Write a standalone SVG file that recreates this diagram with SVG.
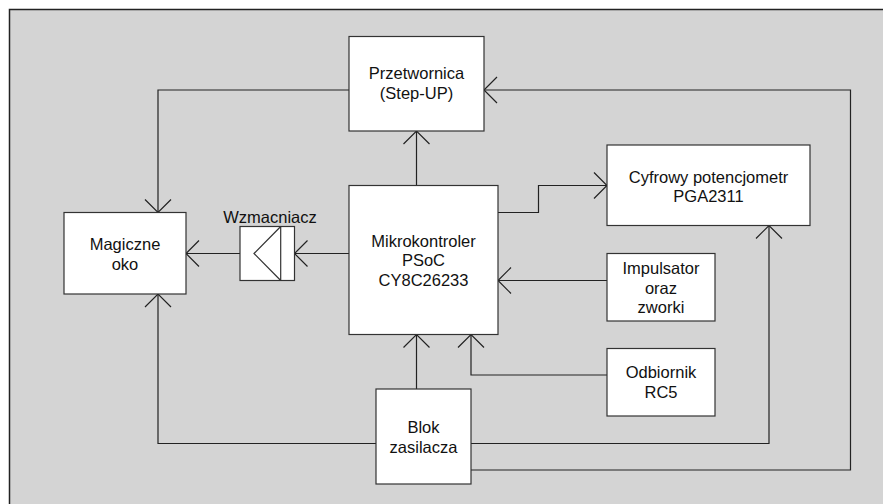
<svg xmlns="http://www.w3.org/2000/svg" width="883" height="504" viewBox="0 0 883 504">
  <style>
    .box { fill: #ffffff; stroke: #333333; stroke-width: 1.2; }
    .wire { fill: none; stroke: #222222; stroke-width: 1.2; }
    .lbl { font-family: "Liberation Sans", Arial, Helvetica, sans-serif; font-size: 16.5px; fill: #111111; text-anchor: middle; }
  </style>
  <defs>
    <marker id="arrow" markerUnits="userSpaceOnUse" markerWidth="30" markerHeight="30" viewBox="-15 -15 30 30" refX="0" refY="0" orient="auto">
      <path d="M-13,-13 L0,0 L-13,13" fill="none" stroke="#222222" stroke-width="1.2"/>
    </marker>
  </defs>

  <!-- panel background -->
  <rect x="0" y="0" width="883" height="504" fill="#ffffff"/>
  <rect x="9.5" y="9.5" width="880" height="500" fill="#d4d4d4" stroke="#222222" stroke-width="1.5"/>

  <!-- connectors -->
  <g id="connectors">
    <!-- Przetwornica -> Magiczne oko -->
    <polyline class="wire" points="349,90 158,90 158,212.5" marker-end="url(#arrow)"/>
    <!-- Blok zasilacza -> Magiczne oko -->
    <polyline class="wire" points="376,443.5 158,443.5 158,294" marker-end="url(#arrow)"/>
    <!-- Wzmacniacz -> Magiczne oko -->
    <line class="wire" x1="240" y1="253.5" x2="186" y2="253.5" marker-end="url(#arrow)"/>
    <!-- Mikrokontroler -> Wzmacniacz -->
    <line class="wire" x1="349" y1="253.5" x2="294.5" y2="253.5" marker-end="url(#arrow)"/>
    <!-- Mikrokontroler -> Przetwornica -->
    <line class="wire" x1="416.5" y1="185.5" x2="416.5" y2="131" marker-end="url(#arrow)"/>
    <!-- Mikrokontroler -> Cyfrowy potencjometr -->
    <polyline class="wire" points="498,212.5 538.5,212.5 538.5,185.5 607,185.5" marker-end="url(#arrow)"/>
    <!-- Impulsator -> Mikrokontroler -->
    <line class="wire" x1="607" y1="280.5" x2="498" y2="280.5" marker-end="url(#arrow)"/>
    <!-- Odbiornik -> Mikrokontroler -->
    <polyline class="wire" points="607,375 471,375 471,334.5" marker-end="url(#arrow)"/>
    <!-- Blok zasilacza -> Mikrokontroler -->
    <line class="wire" x1="416.5" y1="389" x2="416.5" y2="334.5" marker-end="url(#arrow)"/>
    <!-- Blok zasilacza -> Cyfrowy potencjometr -->
    <polyline class="wire" points="471,443.5 769,443.5 769,225.5" marker-end="url(#arrow)"/>
    <!-- Blok zasilacza -> Przetwornica -->
    <polyline class="wire" points="471,470 850.5,470 850.5,90 484,90" marker-end="url(#arrow)"/>
  </g>

  <g id="przetwornica">
    <rect class="box" x="349" y="36.5" width="135" height="94.5"/>
    <text class="lbl" x="416.5" y="78.7">Przetwornica</text>
    <text class="lbl" x="416.5" y="98.7">(Step-UP)</text>
  </g>

  <g id="magiczne-oko">
    <rect class="box" x="64" y="212.5" width="122" height="81.5"/>
    <text class="lbl" x="125" y="250">Magiczne</text>
    <text class="lbl" x="125" y="270">oko</text>
  </g>

  <g id="wzmacniacz">
    <rect class="box" x="240" y="226.5" width="54.5" height="54"/>
    <line x1="280.7" y1="226.5" x2="280.7" y2="280.5" stroke="#333333" stroke-width="1.2"/>
    <polyline points="280.7,226.5 254,253.5 280.7,280.5" fill="none" stroke="#333333" stroke-width="1.2"/>
    <text class="lbl" x="270" y="223">Wzmacniacz</text>
  </g>

  <g id="mikrokontroler">
    <rect class="box" x="349" y="185.5" width="149" height="149"/>
    <text class="lbl" x="423.5" y="246.7">Mikrokontroler</text>
    <text class="lbl" x="423.5" y="266.3">PSoC</text>
    <text class="lbl" x="423.5" y="286">CY8C26233</text>
  </g>

  <g id="cyfrowy-potencjometr">
    <rect class="box" x="607" y="145" width="203" height="80.5"/>
    <text class="lbl" x="708.5" y="182.7">Cyfrowy potencjometr</text>
    <text class="lbl" x="708.5" y="201.7">PGA2311</text>
  </g>

  <g id="impulsator">
    <rect class="box" x="607" y="253.5" width="108" height="67.5"/>
    <text class="lbl" x="661" y="274.3">Impulsator</text>
    <text class="lbl" x="661" y="293.8">oraz</text>
    <text class="lbl" x="661" y="313.3">zworki</text>
  </g>

  <g id="odbiornik">
    <rect class="box" x="607" y="348.5" width="108" height="67.5"/>
    <text class="lbl" x="661" y="378.3">Odbiornik</text>
    <text class="lbl" x="661" y="398.3">RC5</text>
  </g>

  <g id="blok-zasilacza">
    <rect class="box" x="376" y="389" width="95" height="95"/>
    <text class="lbl" x="423.5" y="433.3">Blok</text>
    <text class="lbl" x="423.5" y="453.3">zasilacza</text>
  </g>
</svg>
